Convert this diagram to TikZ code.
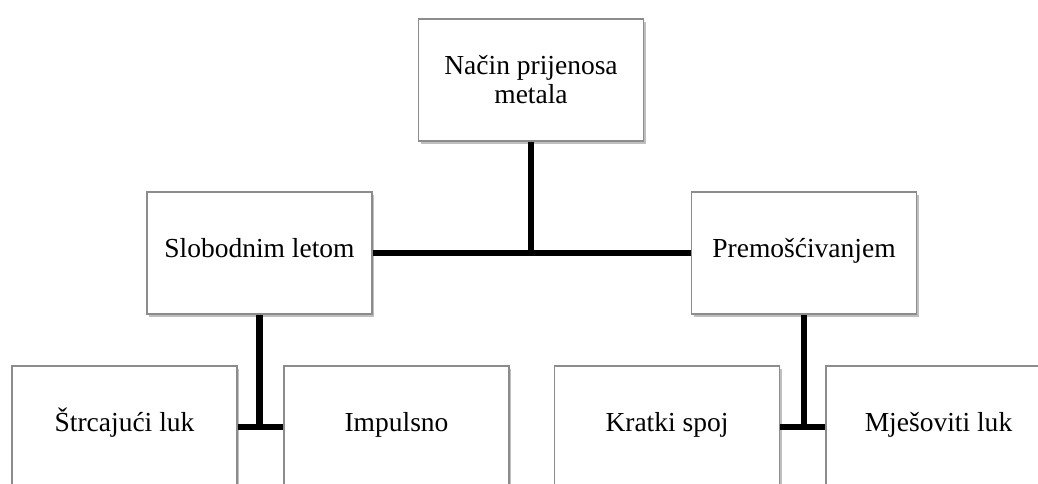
\documentclass[tikz,border=0pt]{standalone}
\usepackage{fontspec}
\setmainfont{Liberation Serif}
\usetikzlibrary{shadows}
\begin{document}
\begin{tikzpicture}[x=1pt,y=-1pt,
  box/.style={draw=black!45, line width=1.3pt, fill=white,
    minimum width=225pt, minimum height=122pt, inner sep=0pt,
    align=center, font=\fontsize{27.5}{29}\selectfont,
    drop shadow={shadow xshift=2pt, shadow yshift=-3pt, fill=black, opacity=0.25}},
  onebox/.style={box, text height=14pt, text depth=6pt},
  conn/.style={line width=6.5pt, black}]
\useasboundingbox (0,0) rectangle (1038,484);
\clip (0,0) rectangle (1038,484);
\node[box] (top) at (531,80) {Način prijenosa\\metala};
\node[onebox] (slob) at (259.5,253) {Slobodnim letom};
\node[onebox] (prem) at (804,253) {Premošćivanjem};
\node[onebox] (strc) at (124.5,427) {Štrcajući luk};
\node[onebox] (imp) at (396.5,427) {Impulsno};
\node[onebox] (krat) at (667,427) {Kratki spoj};
\node[onebox] (mjes) at (938.5,427) {Mješoviti luk};
\coordinate (j1) at (531,253);
\coordinate (j2) at (259.5,427);
\coordinate (j3) at (804,427);
\draw[conn] (top.south) -- (j1);
\draw[conn] (slob.east) -- (prem.west);
\draw[conn] (slob.south) -- (j2);
\draw[conn] (strc.east) -- (imp.west);
\draw[conn] (prem.south) -- (j3);
\draw[conn] (krat.east) -- (mjes.west);
\end{tikzpicture}
\end{document}
